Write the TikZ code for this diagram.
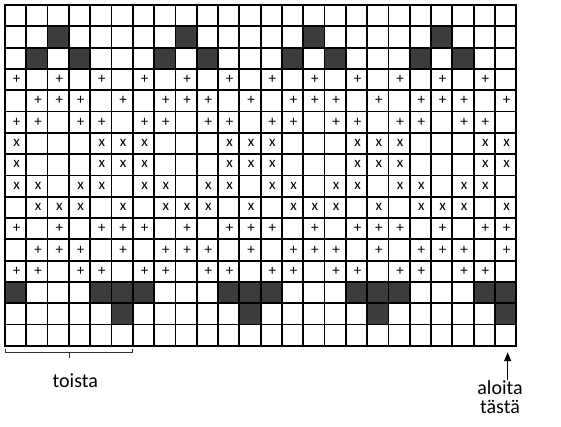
\documentclass[tikz,border=0pt]{standalone}
\usepackage{fontspec}
\setmainfont{Carlito}
\usetikzlibrary{arrows.meta,positioning,calc}
\definecolor{knitdark}{HTML}{3C3C3C}

\begin{document}
\begin{tikzpicture}[
  x=21.3pt,y=-21.3pt,
  cellline/.style={line width=1.8pt,black},
  darkcell/.style={fill=knitdark},
  sym/.style={inner sep=0pt,font=\fontsize{15}{15}\selectfont},
  lbl/.style={align=center,inner sep=0pt,font=\fontsize{20}{19}\selectfont},
  arr/.style={-{Triangle[length=9pt,width=7pt]},line width=1.1pt},
  brace/.style={line width=0.8pt,black!80}
]
\useasboundingbox (-0.2347,-0.2347) rectangle (26.103,19.812);
% one repeat is 6 columns wide, drawn 4 times
\foreach \k in {0,...,3}{
  \foreach \r/\c in {2/3,3/2,3/4,14/1,14/5,14/6,15/6}
    \fill[darkcell] ({6*\k+\c-1},\r-1) rectangle ++(1,1);
  \foreach \r/\c in {4/1,4/3,4/5,5/2,5/3,5/4,5/6,6/1,6/2,6/4,6/5,
                     11/1,11/3,11/5,11/6,12/2,12/3,12/4,12/6,13/1,13/2,13/4,13/5}
    \node[sym] at ({6*\k+\c-0.45},\r-0.5) {+};
  \foreach \r/\c in {7/1,7/5,7/6,8/1,8/5,8/6,9/1,9/2,9/4,9/5,10/2,10/3,10/4,10/6}
    \node[sym] at ({6*\k+\c-0.45},\r-0.52) {x};
}
\foreach \i in {1,...,23} \draw[cellline] (\i,0) -- (\i,16);
\foreach \j in {1,...,15} \draw[cellline] (0,\j) -- (24,\j);
\draw[cellline] (0,0) rectangle (24,16);
% labels below the chart
\coordinate (repL) at (0,16.15);
\coordinate (repR) at (6,16.15);
\coordinate (start) at (23.6,16.3);
\node[lbl] (toista) at (3.3,17.65) {toista};
\node[lbl] (aloita) at (23.24,18.4) {aloita\\tästä};
\draw[brace] (repL) -- ++(0,0.18) -| (repR);
\draw[brace] ($(repL)!0.5!(repR)+(0,0.18)$) -- ++(0,0.24);
\draw[arr] (aloita.north -| start) -- (start);
\end{tikzpicture}
\end{document}
